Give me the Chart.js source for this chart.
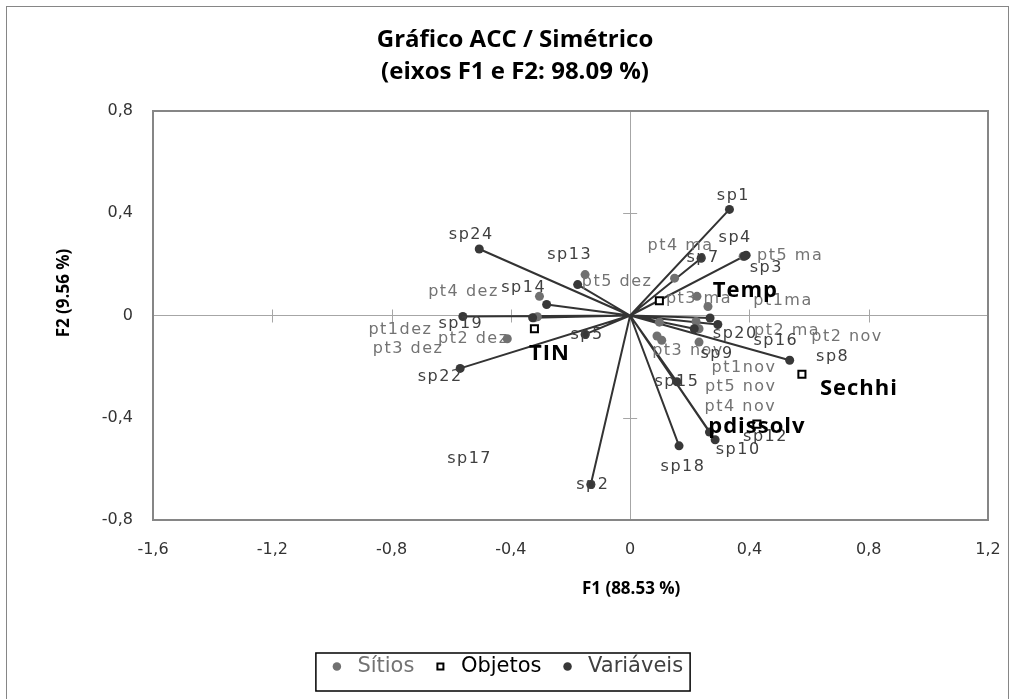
<!DOCTYPE html>
<html>
<head>
<meta charset="utf-8">
<title>Gráfico ACC / Simétrico</title>
<script src="https://cdn.jsdelivr.net/npm/chart.js@4.4.1/dist/chart.umd.min.js"></script>
<style>
  html, body { margin: 0; padding: 0; background: #fff; }
  #wrap { position: relative; width: 1015px; height: 699px; }
</style>
</head>
<body>
<div id="wrap"><canvas id="chart"></canvas></div>
<script>
// Sítios (grey dots)
const siteNames = ['pt1dez', 'pt2 dez', 'pt3 dez', 'pt4 dez', 'pt5 dez',
                   'pt1ma', 'pt2 ma', 'pt3 ma', 'pt4 ma', 'pt5 ma',
                   'pt1nov', 'pt2 nov', 'pt3 nov', 'pt4 nov', 'pt5 nov'];
const siteF1 = [-0.311, -0.412, -0.322, -0.304, -0.151,
                0.261, 0.221, 0.224, 0.149, 0.379,
                0.231, 0.231, 0.090, 0.098, 0.106];
const siteF2 = [-0.005, -0.091, -0.009, 0.075, 0.160,
                0.035, -0.023, 0.075, 0.146, 0.232,
                -0.104, -0.052, -0.080, -0.026, -0.097];

// Objetos (open squares)
const objNames = ['Temp', 'TIN', 'Sechhi', 'pdissolv'];
const objF1 = [0.098, -0.321, 0.576, 0.425];
const objF2 = [0.058, -0.052, -0.230, -0.425];

// Variáveis (dark dots, drawn as vectors from the origin)
const varNames = ['sp1', 'sp2', 'sp3', 'sp4', 'sp5', 'sp7', 'sp8', 'sp9', 'sp10', 'sp12',
                  'sp13', 'sp14', 'sp15', 'sp16', 'sp17', 'sp18', 'sp19', 'sp20', 'sp22', 'sp24'];
const varF1 = [0.333, -0.132, 0.383, 0.389, -0.151, 0.238, 0.535, 0.268, 0.285, 0.266,
               -0.176, -0.280, 0.157, 0.294, -0.327, 0.164, -0.561, 0.215, -0.570, -0.506];
const varF2 = [0.415, -0.661, 0.232, 0.236, -0.074, 0.224, -0.175, -0.010, -0.486, -0.456,
               0.121, 0.043, -0.259, -0.035, -0.009, -0.510, -0.004, -0.052, -0.207, 0.260];

const xTicks = [-1.6, -1.2, -0.8, -0.4, 0, 0.4, 0.8, 1.2];
const yTicks = [-0.8, -0.4, 0, 0.4, 0.8];

const xTitle = 'F1 (88.53 %)';
const yTitle = 'F2 (9.56 %)';

// where the label sits relative to its marker (px), as placed in the original
const siteLabelOff = [[-137, 13], [-34, 0], [-126, 31], [-76, -4], [32, 7],
                      [75, -6], [91, 9], [2, 3], [6, -32], [47, 0],
                      [45, 26], [148, 8], [31, 15], [81, 85], [79, 47]];
const objLabelOff = [[86, -10], [15, 25], [57, 14], [0, 3]];
const varLabelOff = [[4, -14], [2, 0], [22, 12], [-11, -17], [2, 0], [2, 0], [43, -3], [7, 36], [23, 10], [56, 5],
                     [-8, -30], [-23, -17], [0, 0], [58, 16], [-63, 141], [4, 21], [-2, 7], [41, 5], [-20, 8], [-8, -14]];

const toPoints = (xs, ys) => xs.map((v, i) => ({ x: v, y: ys[i] }));

// origin -> point segments, broken by empty points
const vectorData = [];
varF1.forEach((v, i) => {
    vectorData.push({ x: 0, y: 0 }, { x: v, y: varF2[i] }, { x: null, y: null });
});

const fmt = v => String(v).replace('.', ',');

// text next to every marker
const pointLabels = {
    id: 'pointLabels',
    afterDatasetsDraw(chart) {
        const ctx = chart.ctx;
        const groups = [
            { ds: 0, names: siteNames, off: siteLabelOff, font: '16px "DejaVu Sans"', color: '#737373', sp: '1.5px' },
            { ds: 2, names: varNames, off: varLabelOff, font: '16px "DejaVu Sans"', color: '#404040', sp: '1.5px' },
            { ds: 1, names: objNames, off: objLabelOff, font: 'bold 22px "Open Sans"', color: '#000000', sp: '1px' },
        ];
        ctx.save();
        ctx.textAlign = 'center';
        ctx.textBaseline = 'middle';
        groups.forEach(g => {
            const meta = chart.getDatasetMeta(g.ds);
            ctx.font = g.font;
            ctx.fillStyle = g.color;
            ctx.letterSpacing = g.sp;
            meta.data.forEach((pt, i) => {
                ctx.fillText(g.names[i], pt.x + g.off[i][0], pt.y + g.off[i][1]);
            });
        });
        ctx.restore();
    }
};

// plot frame, tick crosses on the zero axes, axis titles, legend box
const frame = {
    id: 'frame',
    afterLayout(chart) {
        // legend sits a little left of centre in the original
        chart.legend.left -= 10;
        chart.legend.right -= 10;
    },
    beforeDatasetsDraw(chart) {
        const { ctx, chartArea: a, scales: { x, y } } = chart;
        const x0 = x.getPixelForValue(0);
        const y0 = y.getPixelForValue(0);
        ctx.save();
        ctx.strokeStyle = '#a6a6a6';
        ctx.lineWidth = 1;
        ctx.beginPath();
        xTicks.forEach(v => {
            if (v === 0 || v === xTicks[0] || v === xTicks[xTicks.length - 1]) return;
            const px = Math.round(x.getPixelForValue(v)) + 0.5;
            ctx.moveTo(px, y0 - 6);
            ctx.lineTo(px, y0 + 7);
        });
        yTicks.forEach(v => {
            if (v === 0 || v === yTicks[0] || v === yTicks[yTicks.length - 1]) return;
            const py = Math.round(y.getPixelForValue(v)) + 0.5;
            ctx.moveTo(x0 - 7, py);
            ctx.lineTo(x0 + 7, py);
        });
        ctx.stroke();
        ctx.strokeStyle = '#868686';
        ctx.lineWidth = 2;
        ctx.strokeRect(a.left, a.top, a.right - a.left, a.bottom - a.top);
        ctx.restore();
    },
    afterDraw(chart) {
        const { ctx, chartArea: a, scales: { x } } = chart;
        ctx.save();
        // chart-area border
        ctx.strokeStyle = '#868686';
        ctx.lineWidth = 1;
        ctx.strokeRect(6.5, 6.5, chart.width - 13, chart.height);

        // axis titles: placed as in the original, not centred on the plot
        ctx.fillStyle = '#000';
        ctx.font = 'bold 17px "Open Sans"';
        ctx.textAlign = 'center';
        ctx.textBaseline = 'middle';
        ctx.fillText(xTitle, x.getPixelForValue(0) + 1, a.bottom + 69);
        ctx.translate(64, a.top + 182);
        ctx.rotate(-Math.PI / 2);
        ctx.fillText(yTitle, 0, 0);
        ctx.restore();

        const hb = chart.legend.legendHitBoxes;
        if (!hb || !hb.length) return;
        const last = hb[hb.length - 1];
        ctx.save();
        ctx.strokeStyle = '#000';
        ctx.lineWidth = 1.5;
        const l = hb[0].left - 11, r = last.left + last.width + 7;
        const t = hb[0].top - 3, b = hb[0].top + hb[0].height + 14;
        ctx.strokeRect(l, t, r - l, b - t);
        ctx.restore();
    }
};

const legendFont = ['#737373', '#000000', '#404040'];

new Chart(document.getElementById('chart'), {
    type: 'scatter',
    data: {
        datasets: [
            {
                label: 'Sítios',
                data: toPoints(siteF1, siteF2),
                pointStyle: 'circle',
                pointRadius: 4.5,
                backgroundColor: '#707070',
                borderColor: '#707070',
                borderWidth: 0,
                order: 2,
            },
            {
                label: 'Objetos',
                data: toPoints(objF1, objF2),
                pointStyle: 'rect',
                pointRadius: 5,
                backgroundColor: '#ffffff',
                borderColor: '#000000',
                borderWidth: 2,
                order: 1,
            },
            {
                label: 'Variáveis',
                data: toPoints(varF1, varF2),
                pointStyle: 'circle',
                pointRadius: 4.5,
                backgroundColor: '#383838',
                borderColor: '#383838',
                borderWidth: 0,
                order: 0,
            },
            {
                label: 'vectors',
                data: vectorData,
                showLine: true,
                pointRadius: 0,
                borderColor: '#333333',
                borderWidth: 2,
                spanGaps: false,
                order: 3,
            },
        ],
    },
    options: {
        responsive: true,
        maintainAspectRatio: false,
        animation: false,
        events: [],
        layout: { padding: { left: 42, right: 27, top: 0, bottom: 12 } },
        scales: {
            x: {
                type: 'linear',
                min: -1.6,
                max: 1.2,
                afterBuildTicks: s => { s.ticks = xTicks.map(v => ({ value: v })); },
                afterFit: s => { s.height = 120; },
                grid: {
                    drawTicks: true,
                    tickLength: 20,
                    tickColor: 'rgba(0,0,0,0)',
                    color: c => (c.tick && c.tick.value === 0 ? '#a6a6a6' : 'rgba(0,0,0,0)'),
                },
                border: { display: false },
                ticks: {
                    padding: 0,
                    autoSkip: false,
                    maxRotation: 0,
                    color: '#333333',
                    font: { family: 'DejaVu Sans', size: 16 },
                    callback: v => fmt(v),
                },
            },
            y: {
                type: 'linear',
                min: -0.8,
                max: 0.8,
                afterBuildTicks: s => { s.ticks = yTicks.map(v => ({ value: v })); },
                afterFit: s => { s.width = 111; },
                grid: {
                    drawTicks: true,
                    tickLength: 20,
                    tickColor: 'rgba(0,0,0,0)',
                    color: c => (c.tick && c.tick.value === 0 ? '#a6a6a6' : 'rgba(0,0,0,0)'),
                },
                border: { display: false },
                ticks: {
                    padding: 0,
                    autoSkip: false,
                    color: '#333333',
                    font: { family: 'DejaVu Sans', size: 16 },
                    callback: v => fmt(v),
                },
            },
        },
        plugins: {
            title: {
                display: true,
                text: ['Gráfico ACC / Simétrico', '(eixos F1 e F2: 98.09 %)'],
                color: '#000000',
                font: { family: 'Open Sans', size: 24, weight: 'bold', lineHeight: 32 / 24 },
                padding: { top: 24, bottom: 23 },
            },
            legend: {
                position: 'bottom',
                labels: {
                    usePointStyle: true,
                    boxWidth: 20,
                    boxHeight: 6,
                    padding: 16,
                    font: { family: 'DejaVu Sans', size: 21 },
                    filter: item => item.datasetIndex < 3,
                    sort: (a, b) => a.datasetIndex - b.datasetIndex,
                    generateLabels(chart) {
                        const items = Chart.defaults.plugins.legend.labels.generateLabels(chart);
                        items.forEach(it => { it.fontColor = legendFont[it.datasetIndex] || '#000'; });
                        return items;
                    },
                },
            },
            tooltip: { enabled: false },
        },
    },
    plugins: [frame, pointLabels],
});
</script>
</body>
</html>
